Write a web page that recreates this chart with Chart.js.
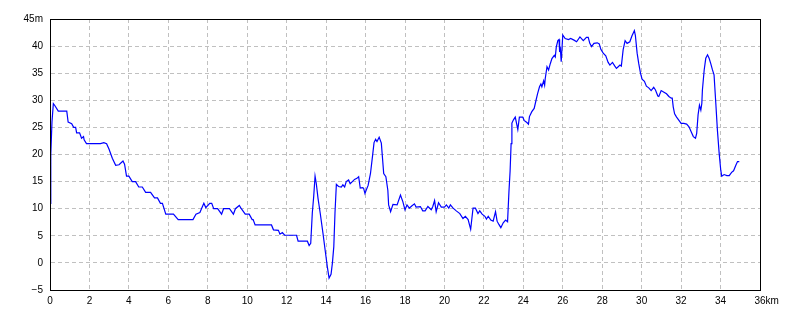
<!DOCTYPE html>
<html lang="ja">
<head>
<meta charset="UTF-8">
<title>標高グラフ</title>
<script src="https://cdn.jsdelivr.net/npm/chart.js"></script>
<style>
  html, body { margin: 0; padding: 0; background: #fff; }
  #wrap { width: 800px; height: 320px; }
</style>
</head>
<body>
<div id="wrap"><canvas id="profile" width="800" height="320"></canvas></div>
<script>
// 距離 (km) と標高 (m)
const distKm = [
  0.00, 0.03, 0.05, 0.10, 0.17, 0.25, 0.42, 0.85, 0.92, 1.10, 1.20, 1.30, 1.35, 1.50, 1.60, 1.70, 1.73, 1.85,
  2.56, 2.73, 2.87, 2.99, 3.16, 3.33, 3.50, 3.70, 3.78, 3.88, 4.00, 4.17, 4.34, 4.50, 4.68, 4.85, 5.10, 5.30,
  5.45, 5.60, 5.70, 5.87, 6.26, 6.50, 7.25, 7.40, 7.60, 7.80, 7.90, 8.10, 8.20, 8.30, 8.50, 8.70, 8.80, 9.10,
  9.30, 9.40, 9.60, 9.70, 9.90, 10.10, 10.25, 10.30, 10.40, 11.23, 11.33, 11.58, 11.66, 11.78, 11.90, 12.50,
  12.58, 13.05, 13.14, 13.22, 13.30, 13.37, 13.44, 13.50, 13.59, 13.70, 13.84, 13.96, 14.06, 14.15, 14.25,
  14.32, 14.39, 14.45, 14.52, 14.63, 14.77, 14.85, 14.94, 15.02, 15.14, 15.22, 15.33, 15.44, 15.56, 15.65,
  15.73, 15.84, 15.90, 15.97, 16.04, 16.13, 16.25, 16.35, 16.43, 16.51, 16.58, 16.69, 16.80, 16.92, 17.03,
  17.13, 17.17, 17.27, 17.39, 17.60, 17.77, 17.89, 18.00, 18.10, 18.22, 18.34, 18.48, 18.56, 18.78, 18.90,
  19.02, 19.16, 19.33, 19.41, 19.50, 19.58, 19.70, 19.84, 20.00, 20.10, 20.22, 20.30, 20.44, 20.60, 20.78,
  20.94, 21.06, 21.20, 21.33, 21.45, 21.57, 21.70, 21.79, 21.91, 22.05, 22.13, 22.22, 22.35, 22.47, 22.59,
  22.67, 22.76, 22.86, 22.98, 23.10, 23.20, 23.27, 23.33, 23.38, 23.42, 23.50, 23.59, 23.67, 23.72, 23.80,
  23.97, 24.04, 24.18, 24.26, 24.31, 24.43, 24.55, 24.65, 24.72, 24.82, 24.89, 24.94, 25.03, 25.08, 25.11,
  25.20, 25.28, 25.37, 25.45, 25.57, 25.62, 25.67, 25.75, 25.81, 25.84, 25.87, 25.92, 26.00, 26.12, 26.29,
  26.40, 26.57, 26.70, 26.87, 27.04, 27.20, 27.29, 27.37, 27.46, 27.58, 27.75, 27.85, 27.93, 28.05, 28.18,
  28.30, 28.39, 28.52, 28.64, 28.72, 28.81, 28.90, 28.97, 29.06, 29.16, 29.26, 29.40, 29.51, 29.63, 29.68,
  29.77, 29.85, 29.94, 30.02, 30.14, 30.24, 30.36, 30.48, 30.61, 30.70, 30.82, 30.87, 30.99, 31.13, 31.26,
  31.38, 31.50, 31.55, 31.60, 31.67, 31.77, 31.89, 32.00, 32.14, 32.28, 32.40, 32.51, 32.62, 32.73, 32.79,
  32.86, 32.93, 33.00, 33.05, 33.08, 33.17, 33.25, 33.34, 33.42, 33.50, 33.59, 33.67, 33.76, 33.84, 33.93,
  34.01, 34.06, 34.18, 34.32, 34.44, 34.56, 34.66, 34.78, 34.86, 34.95
];
const elevM = [
  11, 14, 20, 26, 29.4, 29, 28, 28, 26, 25.7, 25, 25, 24, 24, 23, 23.3, 22.7, 22,
  22, 22.2, 22, 21, 19.3, 18, 18.1, 18.8, 18.2, 16, 16, 15, 15, 14, 14, 13, 13, 12,
  12, 11, 11, 9, 9, 8, 8, 9, 9.3, 11, 10.2, 11, 11, 10, 10, 9, 10, 10,
  9, 10, 10.6, 10, 9, 9, 8, 8, 7, 7, 6.1, 6, 5.3, 5.6, 5.1, 5.1,
  4, 4, 3.2, 3.6, 9.2, 12.2, 16, 14.7, 11.9, 9.2, 5.5, 2.1, -0.7, -2.8, -2.1,
  0, 3, 9.2, 14.5, 14.1, 14, 14.4, 14, 15, 15.3, 14.6, 15, 15.4, 15.6, 15.9,
  13.8, 13.9, 13.8, 12.8, 13.5, 14.3, 16.5, 19.6, 22.2, 22.8, 22.4, 23.2, 22.1, 16.5, 15.9,
  13.4, 10.7, 9.45, 10.8, 10.7, 12.5, 11.3, 9.8, 10.7, 10.1, 10.5, 10.9, 10.3, 10.4, 9.6,
  9.6, 10.4, 9.8, 10.4, 11.5, 9.45, 11.1, 10.3, 10.3, 10.7, 10.1, 10.7, 10.1, 9.6, 9.1,
  8.2, 8.6, 8.0, 6.2, 10.1, 10.1, 9.1, 9.6, 9.0, 8.6, 8.1, 8.6, 7.9, 7.7, 9.45,
  7.7, 7.1, 6.5, 7.4, 7.9, 7.6, 13.1, 17, 22, 25.8, 26.4, 26.9, 25.5, 24.6, 26.9,
  26.9, 26.3, 25.9, 25.6, 27.0, 27.9, 28.5, 30.1, 31.2, 32.5, 33.0, 32.5, 33.6, 32.8, 34,
  36.2, 35.6, 36.8, 37.7, 38.3, 38.0, 39.8, 41.0, 41.2, 38.9, 39.9, 37.1, 42.05, 41.4, 41.2,
  41.4, 41.1, 40.8, 41.7, 41.0, 41.6, 41.6, 40.5, 39.9, 40.5, 40.6, 40.4, 39.4, 38.7, 38.2,
  37.0, 36.5, 37, 36.3, 35.9, 36.2, 36.5, 36.3, 39.3, 41.0, 40.5, 40.8, 41.9, 42.85, 42.0,
  38.7, 36.8, 35.0, 33.9, 33.5, 32.6, 32.3, 31.8, 32.4, 31.9, 30.8, 30.7, 31.8, 31.5, 31.2,
  30.7, 30.4, 30.4, 28.8, 27.5, 26.9, 26.3, 25.75, 25.75, 25.6, 25.1, 24.2, 23.3, 23, 23.9,
  27.3, 29.1, 28.2, 29.4, 31.9, 35.6, 37.75, 38.4, 37.75, 36.8, 35.6, 34.7, 29.4, 24.5, 20.2,
  17.1, 16.0, 16.3, 16.1, 16.1, 16.7, 17.0, 18.06, 18.7, 18.7
];

// 軸の設定
const xMin = 0, xMax = 36, xStep = 2, xUnit = 'km';
const yMin = -5, yMax = 45, yStep = 5, yUnit = 'm';

const tickFont = { family: "'Liberation Sans', 'DejaVu Sans', sans-serif", size: 10 };

// 枠線と「km」の単位を描くプラグイン
const frameBox = {
  id: 'frameBox',
  afterDraw(chart) {
    const { ctx, chartArea: a, scales } = chart;
    ctx.save();
    ctx.strokeStyle = '#000';
    ctx.lineWidth = 1;
    ctx.strokeRect(Math.round(a.left) + 0.5, Math.round(a.top) + 0.5,
                   Math.round(a.right - a.left), Math.round(a.bottom - a.top));
    // 最後の目盛りの右に単位
    ctx.font = tickFont.size + 'px ' + tickFont.family;
    ctx.fillStyle = '#000';
    ctx.textBaseline = 'middle';
    const px = scales.x.getPixelForValue(xMax);
    const w = ctx.measureText(String(xMax)).width;
    ctx.fillText(xUnit, px + w / 2, a.bottom + 11);
    ctx.restore();
  }
};

const points = distKm.map((d, i) => ({ x: d, y: elevM[i] }));

new Chart(document.getElementById('profile'), {
  type: 'scatter',
  data: {
    datasets: [{
      data: points,
      showLine: true,
      borderColor: '#0000ff',
      borderWidth: 1.2,
      pointRadius: 0,
      tension: 0,
      fill: false
    }]
  },
  options: {
    responsive: false,
    animation: false,
    layout: { padding: { top: 19, right: 40, left: 0, bottom: 0 } },
    plugins: { legend: { display: false }, tooltip: { enabled: false } },
    scales: {
      x: {
        type: 'linear',
        min: xMin, max: xMax,
        afterFit(s) { s.height = 30; },
        ticks: {
          stepSize: xStep,
          color: '#000',
          font: tickFont,
          padding: 5,
          maxRotation: 0,
          callback: v => v
        },
        grid: { color: '#c0c0c0', drawTicks: false },
        border: { display: true, color: '#000', dash: [4, 3] }
      },
      y: {
        min: yMin, max: yMax,
        afterFit(s) { s.width = 50; },
        ticks: {
          stepSize: yStep,
          color: '#000',
          font: tickFont,
          padding: 7,
          callback: v => v === yMax ? v + yUnit : (v < 0 ? '\u2212' + (-v) : v)
        },
        grid: { color: '#c0c0c0', drawTicks: false },
        border: { display: true, color: '#000', dash: [4, 3] }
      }
    }
  },
  plugins: [frameBox]
});
</script>
</body>
</html>
